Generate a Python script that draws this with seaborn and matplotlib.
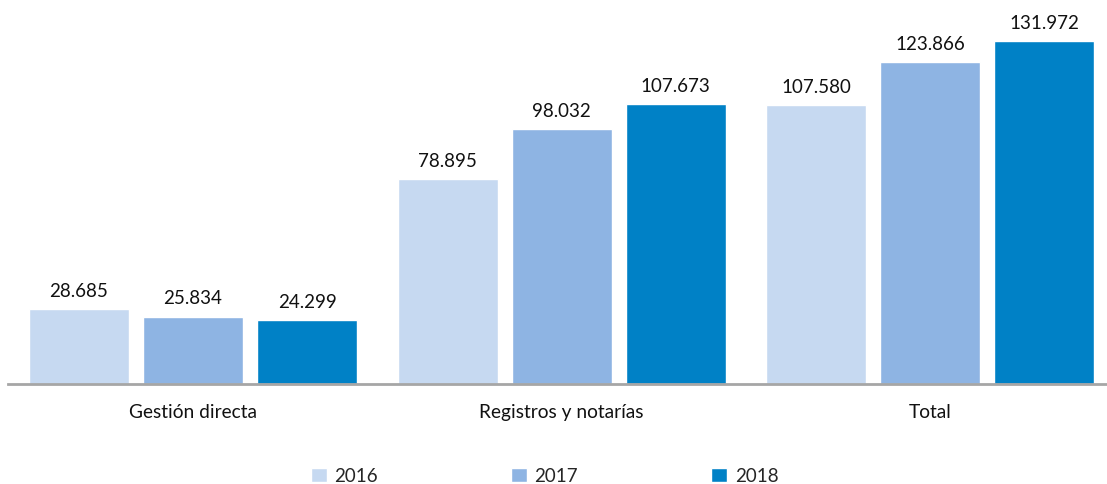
import matplotlib
matplotlib.use("Agg")
import matplotlib.pyplot as plt
import seaborn as sns
import pandas as pd

categories = ["Gestión directa", "Registros y notarías", "Total"]
years = ["2016", "2017", "2018"]
values_2016 = [28685, 78895, 107580]
values_2017 = [25834, 98032, 123866]
values_2018 = [24299, 107673, 131972]
colors = ["#C6D9F1", "#8EB4E3", "#0081C6"]

rows = []
for yr, vals in zip(years, [values_2016, values_2017, values_2018]):
    for c, v in zip(categories, vals):
        rows.append({"cat": c, "year": yr, "value": v})
df = pd.DataFrame(rows)

sns.set_theme(style="white")
plt.rcParams["font.family"] = ["Lato", "DejaVu Sans"]

W, H = 1107, 484
fig = plt.figure(figsize=(W / 100, H / 100), dpi=100)
ax = fig.add_axes([8 / W, (H - 383.5) / H, (1107 - 8) / W, 360 / H])

sns.barplot(data=df, x="cat", y="value", hue="year", order=categories,
            hue_order=years, palette=colors, width=0.928, gap=0.123,
            saturation=1, ax=ax, legend=True)

ax.set_xlim(-0.502, 2.480)
ax.set_ylim(0, 360 / 2.593 * 1000)

for cont in ax.containers:
    labels = [f"{v:,.0f}".replace(",", ".") for v in cont.datavalues]
    ax.bar_label(cont, labels=labels, padding=6.5, fontsize=13.5, color="#111111")

for s in ["top", "right", "left"]:
    ax.spines[s].set_visible(False)
ax.spines["bottom"].set_color("#A6A6A6")
ax.spines["bottom"].set_linewidth(2)
ax.set_yticks([])
ax.set_xlabel("")
ax.set_ylabel("")
ax.tick_params(axis="x", length=0, pad=15, labelsize=13.8, labelcolor="#111111")

handles, labs = ax.get_legend_handles_labels()
ax.get_legend().remove()
fig.legend(handles, labs, loc="center", bbox_to_anchor=(0.492, 1 - 476 / H),
           ncol=3, frameon=False, fontsize=13.5, handlelength=0.85,
           handleheight=0.85, handletextpad=0.4, columnspacing=7.1)

fig.savefig("out.png", dpi=100)
